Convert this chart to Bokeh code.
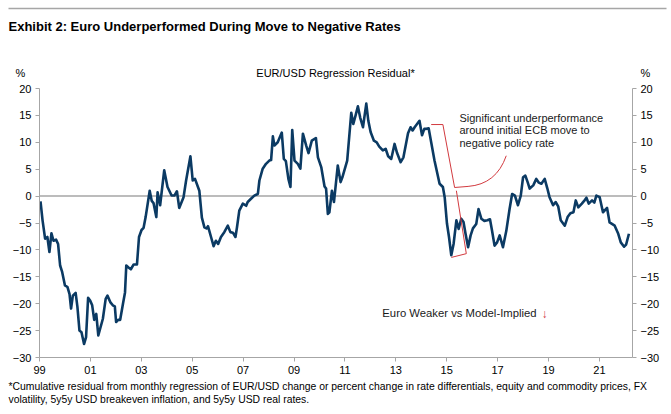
from bokeh.plotting import figure
from bokeh.models import FixedTicker, LinearAxis, Range1d, Label
from bokeh.embed import file_html
from bokeh.resources import INLINE

# ---- data (decimal year, cumulative residual %) ----
t = [1999.04, 1999.12, 1999.22, 1999.31, 1999.39, 1999.47, 1999.55, 1999.65, 1999.73, 1999.81,
     1999.89, 2000.00, 2000.10, 2000.18, 2000.24, 2000.31, 2000.42, 2000.49, 2000.57, 2000.65,
     2000.75, 2000.83, 2000.91, 2000.99, 2001.07, 2001.15, 2001.23, 2001.31, 2001.38, 2001.49,
     2001.60, 2001.67, 2001.78, 2001.88, 2001.96, 2002.01, 2002.09, 2002.17, 2002.28, 2002.36,
     2002.41, 2002.51, 2002.59, 2002.70, 2002.83, 2002.91, 2003.01, 2003.09, 2003.17, 2003.33,
     2003.41, 2003.48, 2003.59, 2003.64, 2003.74, 2003.90, 2004.03, 2004.19, 2004.30, 2004.40,
     2004.49, 2004.66, 2004.76, 2004.93, 2005.02, 2005.11, 2005.28, 2005.38, 2005.48, 2005.56,
     2005.62, 2005.74, 2005.84, 2005.93, 2006.02, 2006.13, 2006.26, 2006.40, 2006.50, 2006.60,
     2006.70, 2006.76, 2006.85, 2006.99, 2007.12, 2007.18, 2007.31, 2007.44, 2007.58, 2007.64,
     2007.77, 2007.90, 2008.03, 2008.10, 2008.17, 2008.23, 2008.36, 2008.52, 2008.60, 2008.68,
     2008.78, 2008.86, 2008.93, 2009.02, 2009.15, 2009.25, 2009.35, 2009.48, 2009.57, 2009.70,
     2009.86, 2009.94, 2010.07, 2010.20, 2010.26, 2010.33, 2010.39, 2010.49, 2010.57, 2010.72,
     2010.83, 2010.90, 2011.09, 2011.25, 2011.33, 2011.42, 2011.51, 2011.60, 2011.71, 2011.84,
     2011.92, 2012.01, 2012.14, 2012.25, 2012.35, 2012.49, 2012.60, 2012.70, 2012.82, 2012.95,
     2013.05, 2013.19, 2013.30, 2013.48, 2013.58, 2013.66, 2013.74, 2013.93, 2014.03, 2014.12,
     2014.20, 2014.29, 2014.39, 2014.52, 2014.72, 2014.85, 2014.92, 2015.01, 2015.09, 2015.18,
     2015.27, 2015.38, 2015.47, 2015.57, 2015.66, 2015.74, 2015.84, 2015.94, 2016.03, 2016.16,
     2016.25, 2016.36, 2016.48, 2016.60, 2016.70, 2016.78, 2016.88, 2016.98, 2017.08, 2017.21,
     2017.34, 2017.47, 2017.57, 2017.68, 2017.80, 2017.91, 2018.00, 2018.09, 2018.18, 2018.26,
     2018.40, 2018.52, 2018.62, 2018.72, 2018.85, 2018.95, 2019.04, 2019.18, 2019.28, 2019.38,
     2019.48, 2019.64, 2019.75, 2019.86, 2019.98, 2020.07, 2020.17, 2020.31, 2020.40, 2020.49,
     2020.58, 2020.71, 2020.80, 2020.88, 2021.01, 2021.14, 2021.30, 2021.40, 2021.60, 2021.74,
     2021.84, 2021.97, 2022.05, 2022.16]
v = [-1.0, -4.5, -7.9, -7.6, -10.4, -6.9, -8.3, -8.1, -8.9, -12.9,
     -14.1, -16.6, -16.9, -18.2, -20.9, -18.5, -18.0, -20.6, -25.0, -25.3,
     -27.5, -26.2, -18.9, -19.4, -20.3, -23.0, -21.9, -25.9, -24.7, -22.8,
     -19.1, -18.5, -19.7, -20.3, -20.5, -23.4, -23.0, -23.0, -20.0, -17.9,
     -12.9, -13.3, -13.6, -12.7, -12.7, -7.6, -6.3, -5.9, -3.9, 1.0,
     -0.9, -1.3, -3.9, 0.7, -1.7, 4.8, 1.7, 0.1, 0.1, 0.9,
     -2.2, -0.2, 2.9, 7.4, 2.9, 3.2, 1.0, -4.0, -5.8, -6.0,
     -5.6, -7.6, -9.3, -8.3, -8.9, -7.6, -6.7, -5.5, -6.7, -6.8,
     -7.6, -5.8, -2.7, -1.4, -1.8, -1.1, -0.5, 0.1, 0.4, 2.9,
     5.1, 6.0, 6.6, 6.7, 11.1, 9.4, 10.0, 11.8, 6.9, 6.5,
     3.2, 1.7, 12.3, 6.6, 6.0, 5.1, 11.6, 9.4, 8.0, 10.3,
     10.8, 7.2, 5.4, 1.8, 1.4, -3.3, -3.0, 1.0, -1.1, 5.7,
     2.6, 3.5, 6.6, 15.5, 13.4, 15.0, 16.7, 14.6, 12.8, 17.2,
     14.0, 11.9, 10.3, 10.0, 9.2, 8.5, 8.8, 7.4, 6.9, 9.7,
     8.0, 6.3, 7.2, 11.7, 12.8, 12.2, 12.8, 14.0, 11.3, 12.5,
     12.5, 12.6, 10.0, 6.6, 2.3, 1.7, -0.2, -5.1, -7.6, -11.0,
     -8.9, -4.5, -6.1, -4.2, -4.8, -7.0, -9.5, -7.3, -6.0, -5.2,
     -2.4, -4.2, -4.6, -4.5, -4.3, -6.4, -9.2, -8.6, -7.3, -9.5,
     -6.5, -2.4, 0.4, 0.1, -1.7, 0.1, 3.5, 3.8, 2.6, 1.4,
     2.0, 3.2, 2.5, 2.3, 3.2, 1.5, -0.2, -1.7, -1.1, -1.9,
     -4.5, -5.5, -3.9, -3.2, -3.0, -0.8, -2.1, -1.4, -0.9, -0.3,
     -1.4, -0.8, -1.2, 0.1, -0.2, -3.0, -2.2, -4.9, -5.5, -7.0,
     -8.6, -9.4, -9.0, -7.0]

x_tick_years = [1999, 2001, 2003, 2005, 2007, 2009, 2011, 2013, 2015, 2017, 2019, 2021]
x_tick_labels = ["99", "01", "03", "05", "07", "09", "11", "13", "15", "17", "19", "21"]
y_ticks = [-30, -25, -20, -15, -10, -5, 0, 5, 10, 15, 20]

title_text = "Exhibit 2: Euro Underperformed During Move to Negative Rates"
subtitle_text = "EUR/USD Regression Residual*"
unit_text = "%"
annot_lines = ["Significant underperformance", "around initial ECB move to", "negative policy rate"]
weaker_text = "Euro Weaker vs Model-Implied"
arrow_text = "\u2193"
foot1 = ("*Cumulative residual from monthly regression of EUR/USD change or percent change in rate "
         "differentials, equity and commodity prices, FX")
foot2 = "volatility, 5y5y USD breakeven inflation, and 5y5y USD real rates."

# ---- style / layout ----
NAVY = "#0b3a63"
GRAY = "#a6a6a6"
RED = "#d23a3f"
FONT = "Liberation Sans"
W, H = 671, 414
XMIN, XMAX = 1999.0, 2022.3          # plotted span of the time axis
YMIN, YMAX = -30, 20                 # plotted span of the value axis
PL, PR, PT, PB = 39, 632, 88, 357    # pixel box of the chart area within the page

kx = (PR - PL) / (XMAX - XMIN)
ky = (PB - PT) / (YMAX - YMIN)
x_lo = XMIN - PL / kx
x_hi = XMAX + (W - PR) / kx
y_hi = YMAX + PT / ky
y_lo = YMIN - (H - PB) / ky


def at(xp, yp):
    """page pixel -> data coordinate (for page furniture such as titles)"""
    return x_lo + xp / kx, y_hi - yp / ky


p = figure(width=W, height=H, output_backend="svg", toolbar_location=None,
           x_range=Range1d(x_lo, x_hi), y_range=Range1d(y_lo, y_hi),
           x_axis_type=None, y_axis_type=None,
           min_border=0, min_border_left=0, min_border_right=0, min_border_top=0, min_border_bottom=0)
p.outline_line_color = None
p.grid.visible = False
p.background_fill_color = "white"
p.border_fill_color = "white"


def style_axis(ax):
    ax.axis_line_color = GRAY
    ax.axis_line_width = 1
    ax.major_tick_line_color = GRAY
    ax.major_tick_out = 4
    ax.major_tick_in = 0
    ax.minor_tick_line_color = None
    ax.major_label_text_font = FONT
    ax.major_label_text_font_size = "11px"
    ax.major_label_text_color = "#000000"
    ax.major_label_standoff = 4


xaxis = LinearAxis(ticker=FixedTicker(ticks=x_tick_years), fixed_location=YMIN, bounds=(XMIN, XMAX),
                   major_label_overrides={yr: lab for yr, lab in zip(x_tick_years, x_tick_labels)})
yaxis_l = LinearAxis(ticker=FixedTicker(ticks=y_ticks), fixed_location=XMIN, bounds=(YMIN, YMAX))
yaxis_r = LinearAxis(ticker=FixedTicker(ticks=y_ticks), fixed_location=XMAX, bounds=(YMIN, YMAX))
for ax in (xaxis, yaxis_l, yaxis_r):
    style_axis(ax)
p.add_layout(xaxis, "below")
p.add_layout(yaxis_l, "left")
p.add_layout(yaxis_r, "right")

# zero line
p.segment(x0=[XMIN], y0=[0], x1=[XMAX], y1=[0], line_color=GRAY, line_width=1.5)

# series
p.line(t, v, line_color=NAVY, line_width=2.6, line_join="round")

# bracket + connector
p.line([2014.39, 2014.85, 2015.31, 2015.84], [13.3, 13.3, 1.6, 1.8], line_color=RED, line_width=1)
p.line([2015.38, 2015.77, 2015.18], [1.0, -10.7, -11.4], line_color=RED, line_width=1)
p.quadratic(x0=[2015.84], y0=[1.8], x1=[2017.34], y1=[7.5], cx=[2016.95], cy=[2.2],
            line_color=RED, line_width=1)

for txt, yy in zip(annot_lines, [14.6, 12.2, 9.8]):
    p.add_layout(Label(x=2015.5, y=yy, text=txt, text_font=FONT, text_font_size="11px",
                       text_color="#1a1a1a", text_baseline="middle", text_align="left"))

p.add_layout(Label(x=2012.47, y=-21.8, text=weaker_text, text_font=FONT, text_font_size="11.3px",
                   text_color="#1a1a1a", text_baseline="middle"))
p.add_layout(Label(x=2018.72, y=-22.0, text=arrow_text, text_font=FONT, text_font_size="12px",
                   text_color=RED, text_baseline="middle"))

# page furniture: top rule, title, units, subtitle, footnote
rx0, ry0 = at(8, 8)
rx1, _ = at(666, 8)
p.segment(x0=[rx0], y0=[ry0], x1=[rx1], y1=[ry0], line_color=GRAY, line_width=1.5)

for txt, xp, yp, size, style, align in [
    (title_text, 8, 26, "13px", "bold", "left"),
    (unit_text, 20, 72, "11px", "normal", "center"),
    (unit_text, 645, 72, "11px", "normal", "center"),
    (subtitle_text, 335, 72, "11px", "normal", "center"),
    (foot1, 8, 386, "10.4px", "normal", "left"),
    (foot2, 8, 399, "10.4px", "normal", "left"),
]:
    lx, ly = at(xp, yp)
    p.add_layout(Label(x=lx, y=ly, text=txt, text_font=FONT, text_font_size=size,
                       text_font_style=style, text_color="#000000", text_align=align,
                       text_baseline="middle"))

open("out.html", "w").write(file_html(p, INLINE))
